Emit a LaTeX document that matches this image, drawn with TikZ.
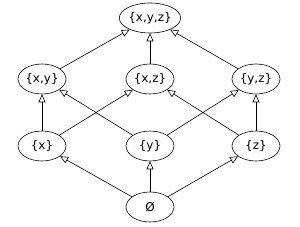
\documentclass[tikz,border=0pt]{standalone}
\usepackage{fontspec}
\setmainfont{DejaVu Sans}
\usepackage{tikz}
\usetikzlibrary{arrows.meta,shapes.geometric}
\tikzset{
  set/.style={draw,ellipse,semithick,minimum width=48pt,minimum height=30pt,inner sep=0pt,font=\fontsize{12}{14}\selectfont},
  ar/.style={-{Triangle[open,length=8pt,width=7pt]},semithick}
}
\begin{document}
\begin{tikzpicture}[x=1pt,y=-1pt]
\useasboundingbox (0,0) rectangle (300,227);
% bottom to top
\node[set] (e) at (150,207) {Ø};
\node[set] (x) at (42,146) {\{x\}};
\node[set] (y) at (150,146) {\{y\}};
\node[set] (z) at (256,146) {\{z\}};
\node[set] (xy) at (42,79) {\{x,y\}};
\node[set] (xz) at (150,79) {\{x,z\}};
\node[set] (yz) at (256,79) {\{y,z\}};
\node[set] (xyz) at (150,18) {\{x,y,z\}};
\draw[ar] (e)--(x);
\draw[ar] (e)--(y);
\draw[ar] (e)--(z);
\draw[ar] (x)--(xy);
\draw[ar] (x)--(xz);
\draw[ar] (y)--(xy);
\draw[ar] (y)--(yz);
\draw[ar] (z)--(xz);
\draw[ar] (z)--(yz);
\draw[ar] (xy)--(xyz);
\draw[ar] (xz)--(xyz);
\draw[ar] (yz)--(xyz);
\end{tikzpicture}
\end{document}
